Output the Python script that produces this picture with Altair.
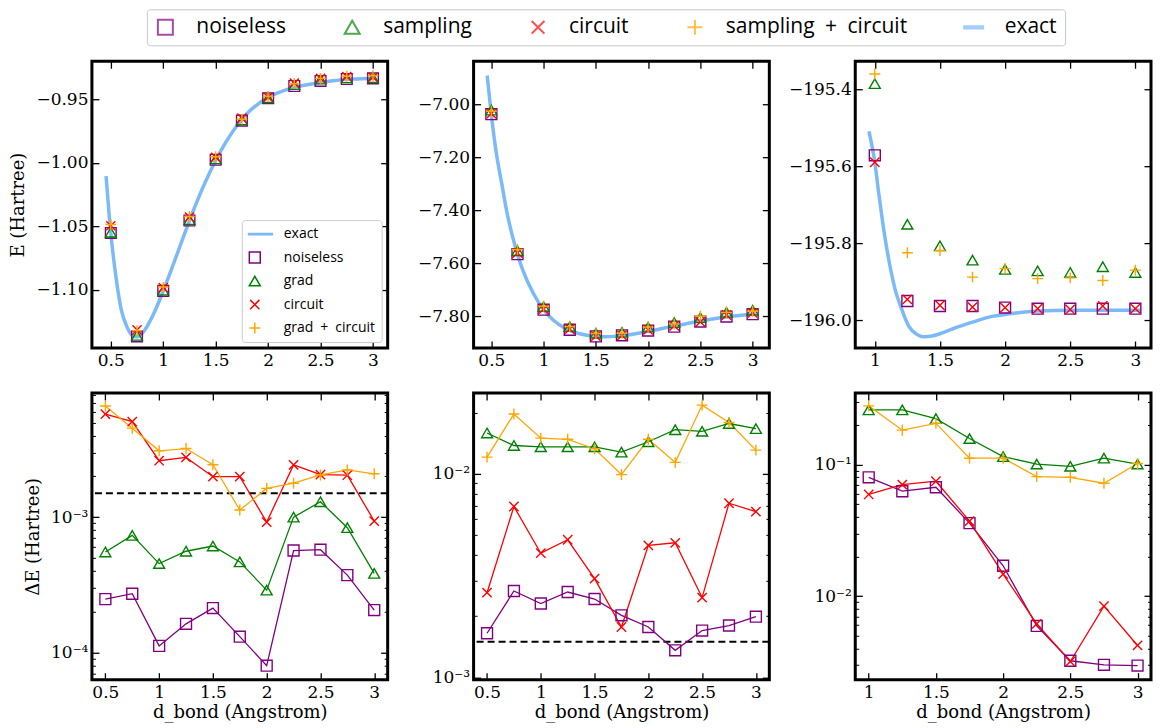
import altair as alt
import pandas as pd

# ---------------- data ----------------
d_h2 = [0.5, 0.75, 1.0, 1.25, 1.5, 1.75, 2.0, 2.25, 2.5, 2.75, 3.0]
d_lih = [0.5, 0.75, 1.0, 1.25, 1.5, 1.75, 2.0, 2.25, 2.5, 2.75, 3.0]
d_big = [1.0, 1.25, 1.5, 1.75, 2.0, 2.25, 2.5, 2.75, 3.0]

series_names = ["noiseless", "sampling", "circuit", "sampling + circuit"]
inset_names = ["noiseless", "grad", "circuit", "grad\u2002+\u2002circuit"]

# top row: energies (Hartree)
h2_noiseless = [-1.0553, -1.1368, -1.1010, -1.0455, -0.9976, -0.9668, -0.9492, -0.9395, -0.9355, -0.9340, -0.9335]
h2_sampling = [-1.0548, -1.1361, -1.1005, -1.0449, -0.9970, -0.9663, -0.9489, -0.9385, -0.9342, -0.9332, -0.9331]
h2_circuit = [-1.0496, -1.1317, -1.0984, -1.0428, -0.9956, -0.9648, -0.9483, -0.9371, -0.9335, -0.9320, -0.9326]
h2_both = [-1.0487, -1.1323, -1.0979, -1.0423, -0.9952, -0.9657, -0.9476, -0.9377, -0.9335, -0.9318, -0.9314]

lih_noiseless = [-7.036, -7.566, -7.776, -7.852, -7.877, -7.873, -7.855, -7.840, -7.821, -7.802, -7.793]
lih_sampling = [-7.021, -7.553, -7.764, -7.840, -7.865, -7.862, -7.842, -7.825, -7.806, -7.786, -7.778]
lih_circuit = [-7.034, -7.561, -7.774, -7.849, -7.876, -7.873, -7.852, -7.837, -7.822, -7.796, -7.788]
lih_both = [-7.025, -7.548, -7.763, -7.840, -7.866, -7.865, -7.842, -7.830, -7.801, -7.786, -7.782]

big_noiseless = [-195.572, -195.950, -195.963, -195.963, -195.967, -195.970, -195.970, -195.970, -195.970]
big_sampling = [-195.386, -195.751, -195.807, -195.844, -195.868, -195.872, -195.876, -195.861, -195.876]
big_circuit = [-195.590, -195.946, -195.961, -195.966, -195.967, -195.970, -195.972, -195.963, -195.970]
big_both = [-195.361, -195.825, -195.819, -195.888, -195.866, -195.892, -195.890, -195.897, -195.870]

# exact curves
h2_exact_d = [0.455, 0.5, 0.55, 0.6, 0.65, 0.7, 0.74, 0.8, 0.9, 1.0, 1.1, 1.2, 1.3, 1.4, 1.5,
              1.6, 1.7, 1.8, 1.9, 2.0, 2.2, 2.4, 2.6, 2.8, 3.02]
h2_exact_e = [-1.0105, -1.0553, -1.0905, -1.1160, -1.1285, -1.1357, -1.1372, -1.1343, -1.1205,
              -1.1011, -1.0792, -1.0567, -1.0350, -1.0154, -0.9982, -0.9834, -0.9710, -0.9611,
              -0.9539, -0.9486, -0.9418, -0.9381, -0.9355, -0.9340, -0.9333]

lih_exact_d = [0.46, 0.5, 0.55, 0.6, 0.65, 0.7, 0.75, 0.8, 0.9, 1.0, 1.1, 1.2, 1.3, 1.4, 1.5,
               1.6, 1.7, 1.8, 2.0, 2.2, 2.4, 2.6, 2.8, 3.03]
lih_exact_e = [-6.89, -7.04, -7.19, -7.30, -7.41, -7.495, -7.566, -7.625, -7.713, -7.776, -7.818,
               -7.845, -7.862, -7.872, -7.877, -7.878, -7.876, -7.872, -7.858, -7.842, -7.826,
               -7.812, -7.801, -7.791]

big_exact_d = [0.955, 1.0, 1.03, 1.06, 1.09, 1.12, 1.16, 1.2, 1.26, 1.32, 1.375, 1.44, 1.5, 1.6,
               1.75, 1.9, 2.0, 2.25, 2.5, 2.8, 3.04]
big_exact_e = [-195.51, -195.59, -195.67, -195.745, -195.81, -195.865, -195.925, -195.965,
               -196.015, -196.036, -196.043, -196.041, -196.035, -196.022, -196.005, -195.99,
               -195.985, -195.976, -195.974, -195.974, -195.974]

# bottom row: errors (Hartree)
h2_err_noiseless = [2.48e-4, 2.72e-4, 1.12e-4, 1.63e-4, 2.13e-4, 1.31e-4, 8.0e-5, 5.67e-4, 5.75e-4, 3.73e-4, 2.06e-4]
h2_err_sampling = [5.53e-4, 7.33e-4, 4.54e-4, 5.60e-4, 6.12e-4, 4.67e-4, 2.89e-4, 1.0e-3, 1.30e-3, 8.36e-4, 3.84e-4]
h2_err_circuit = [5.76e-3, 5.08e-3, 2.61e-3, 2.76e-3, 1.99e-3, 1.99e-3, 9.2e-4, 2.43e-3, 2.06e-3, 2.04e-3, 9.35e-4]
h2_err_both = [6.62e-3, 4.54e-3, 3.09e-3, 3.21e-3, 2.44e-3, 1.13e-3, 1.63e-3, 1.78e-3, 2.05e-3, 2.23e-3, 2.09e-3]

lih_err_noiseless = [1.65e-3, 2.66e-3, 2.31e-3, 2.63e-3, 2.43e-3, 2.02e-3, 1.77e-3, 1.36e-3, 1.70e-3, 1.80e-3, 1.99e-3]
lih_err_sampling = [1.59e-2, 1.38e-2, 1.36e-2, 1.36e-2, 1.36e-2, 1.28e-2, 1.44e-2, 1.65e-2, 1.62e-2, 1.77e-2, 1.67e-2]
lih_err_circuit = [2.61e-3, 6.92e-3, 4.08e-3, 4.75e-3, 3.06e-3, 1.77e-3, 4.46e-3, 4.59e-3, 2.47e-3, 7.18e-3, 6.53e-3]
lih_err_both = [1.21e-2, 1.97e-2, 1.50e-2, 1.48e-2, 1.33e-2, 9.93e-3, 1.48e-2, 1.14e-2, 2.18e-2, 1.79e-2, 1.31e-2]

big_err_noiseless = [8.01e-2, 6.28e-2, 6.73e-2, 3.59e-2, 1.70e-2, 5.93e-3, 3.22e-3, 3.0e-3, 2.96e-3]
big_err_sampling = [0.261, 0.261, 0.224, 0.158, 0.115, 0.101, 0.0971, 0.112, 0.101]
big_err_circuit = [5.93e-2, 7.05e-2, 7.48e-2, 3.72e-2, 1.47e-2, 6.14e-3, 3.18e-3, 8.39e-3, 4.21e-3]
big_err_both = [0.280, 0.183, 0.206, 0.112, 0.112, 8.11e-2, 8.01e-2, 7.22e-2, 0.102]

chem_accuracy = 1.5e-3

# tick values
x_ticks_a = [0.5, 1.0, 1.5, 2.0, 2.5, 3.0]
x_ticks_b = [1.0, 1.5, 2.0, 2.5, 3.0]
y_ticks_h2 = [-1.10, -1.05, -1.00, -0.95]
y_ticks_lih = [-7.8, -7.6, -7.4, -7.2, -7.0]
y_ticks_big = [-196.0, -195.8, -195.6, -195.4]
y_major_h2 = [1e-4, 1e-3]
y_minor_h2 = [7e-5, 8e-5, 9e-5, 2e-4, 3e-4, 4e-4, 5e-4, 6e-4, 7e-4, 8e-4, 9e-4,
              2e-3, 3e-3, 4e-3, 5e-3, 6e-3, 7e-3, 8e-3]
y_major_lih = [1e-3, 1e-2]
y_minor_lih = [2e-3, 3e-3, 4e-3, 5e-3, 6e-3, 7e-3, 8e-3, 9e-3, 2e-2]
y_major_big = [1e-2, 1e-1]
y_minor_big = [3e-3, 4e-3, 5e-3, 6e-3, 7e-3, 8e-3, 9e-3, 2e-2, 3e-2, 4e-2, 5e-2, 6e-2,
               7e-2, 8e-2, 9e-2, 0.2, 0.3]

legend_names = ["noiseless", "sampling", "circuit", "sampling\u2002+\u2002circuit", "exact"]
inset_legend_names = ["exact", "noiseless", "grad", "circuit", "grad\u2002+\u2002circuit"]

# ---------------- styles ----------------
PURPLE, GREEN, RED, ORANGE, SKY = "#800080", "#008000", "#ff0000", "#ffa500", "#7cb9f7"
COLORS4 = [PURPLE, GREEN, RED, ORANGE]
SQ, TRI = "square", "triangle-up"
XP = "M-0.85,-0.85L0.85,0.85M-0.85,0.85L0.85,-0.85"
PL = "M-1,0H1M0,-1V1"
EXACT_TOP = "M-7.6,-0.15H1.4M-7.6,0H1.4M-7.6,0.15H1.4"
EXACT_INSET = "M-3.35,-0.1H3.35M-3.35,0H3.35M-3.35,0.1H3.35"
SHAPES4 = [SQ, TRI, XP, PL]
TICK_FONT = "DejaVu Serif"
LOG_LABEL = "'10' + ['\u2070','\u207b\u00b9','\u207b\u00b2','\u207b\u00b3','\u207b\u2074','\u207b\u2075'][round(-log(datum.value)/LN10)]"


def long_df(d, cols, names):
    rows = []
    for name, vals in zip(names, cols):
        for x, v in zip(d, vals):
            rows.append({"d": x, "E": v, "series": name})
    return pd.DataFrame(rows)


def axis(orient, values=None, labels=True, minor=False, fmt=None, expr=None, title=None, tpad=None):
    size = 3.5 if minor else 7.0
    kw = dict(orient=orient, offset=-size, tickSize=size, labels=labels, ticks=True,
              domain=False, grid=False, tickWidth=1.0 if minor else 1.3, title=title,
              labelFont=TICK_FONT, labelFontSize=17, labelColor="black",
              titleFont=TICK_FONT, titleFontSize=18, titleFontWeight="normal", titleColor="black",
              tickColor="black", labelFlush=False, labelOverlap=False)
    kw["labelPadding"] = 5 if orient in ("bottom", "top") else 4
    if values is not None:
        kw["values"] = values
    if fmt:
        kw["format"] = fmt
    if expr:
        kw["labelExpr"] = expr
    if tpad is not None:
        kw["titlePadding"] = tpad
    return alt.Axis(**kw)


def make_panel(df, xdom, xvals, ydom, yvals, ylog=False, yfmt=None, ytitle=None, xtitle=None,
               exact=None, rule=None, connect=False, minor=None,
               domain=series_names, colors=COLORS4, shapes=SHAPES4, legend=None, size=120):
    if ylog:
        yscale = alt.Scale(type="log", domain=ydom, nice=False)
    else:
        yscale = alt.Scale(domain=ydom, nice=False, zero=False)
    xscale = alt.Scale(domain=xdom, nice=False, zero=False)
    cscale = alt.Scale(domain=domain, range=colors)
    sscale = alt.Scale(domain=domain, range=shapes)
    layers = []
    if exact is not None:
        layers.append(alt.Chart(exact).mark_line(color=SKY, strokeWidth=3.5, interpolate="monotone", clip=True).encode(
            x=alt.X("d:Q", scale=xscale, axis=None),
            y=alt.Y("E:Q", scale=yscale, axis=None)))
    if rule is not None:
        layers.append(alt.Chart(pd.DataFrame({"E": [rule]})).mark_rule(color="black", strokeDash=[7, 4], strokeWidth=2).encode(
            y=alt.Y("E:Q", scale=yscale, axis=None)))
    if connect:
        layers.append(alt.Chart(df).mark_line(strokeWidth=1.3).encode(
            x=alt.X("d:Q", scale=xscale, axis=None),
            y=alt.Y("E:Q", scale=yscale, axis=None),
            color=alt.Color("series:N", scale=cscale, legend=None)))
    if ylog:
        yax = axis("left", values=yvals, expr=LOG_LABEL, title=ytitle, tpad=8)
    else:
        yax = axis("left", values=yvals, fmt=yfmt, title=ytitle, tpad=8)
    xax = axis("bottom", values=xvals, fmt="~g", title=xtitle, tpad=3)
    layers.append(alt.Chart(df).mark_point(filled=False, size=size, strokeWidth=1.4, opacity=1, clip=True).encode(
        x=alt.X("d:Q", scale=xscale, axis=xax),
        y=alt.Y("E:Q", scale=yscale, axis=yax),
        color=alt.Color("series:N", scale=cscale, legend=legend),
        shape=alt.Shape("series:N", scale=sscale, legend=legend)))
    layers.append(alt.Chart(df).mark_point(opacity=0).encode(
        x=alt.X("d:Q", scale=xscale, axis=axis("top", values=xvals, labels=False)),
        y=alt.Y("E:Q", scale=yscale, axis=axis("right", values=yvals, labels=False))))
    if minor is not None:
        layers.append(alt.Chart(df).mark_point(opacity=0).encode(
            x=alt.X("d:Q", scale=xscale, axis=None),
            y=alt.Y("E:Q", scale=yscale, axis=axis("left", values=minor, labels=False, minor=True))))
        layers.append(alt.Chart(df).mark_point(opacity=0).encode(
            x=alt.X("d:Q", scale=xscale, axis=None),
            y=alt.Y("E:Q", scale=yscale, axis=axis("right", values=minor, labels=False, minor=True))))
    return alt.layer(*layers).resolve_axis(x="independent", y="independent").properties(width=PW, height=PH)


PW, PH = 296, 287

inset_legend = alt.Legend(title=None, orient="bottom-right", offset=6, padding=6,
                          labelFont="Open Sans", labelFontSize=14, labelColor="black",
                          labelOffset=22, symbolSize=120, symbolStrokeWidth=1.5,
                          clipHeight=16, rowPadding=7.5, strokeColor="#cccccc",
                          fillColor="white", cornerRadius=3, labelLimit=300)

p1 = make_panel(long_df(d_h2, [h2_noiseless, h2_sampling, h2_circuit, h2_both], inset_names),
                [0.32, 3.14], x_ticks_a, [-1.146, -0.920], y_ticks_h2, yfmt=".2f",
                ytitle="E  (Hartree)",
                exact=pd.DataFrame({"d": h2_exact_d, "E": h2_exact_e}),
                domain=inset_legend_names, colors=[SKY] + COLORS4,
                shapes=[EXACT_INSET] + SHAPES4, legend=inset_legend, size=115)
p2 = make_panel(long_df(d_lih, [lih_noiseless, lih_sampling, lih_circuit, lih_both], series_names),
                [0.33, 3.16], x_ticks_a, [-7.921, -6.836], y_ticks_lih, yfmt=".2f",
                exact=pd.DataFrame({"d": lih_exact_d, "E": lih_exact_e}))
p3 = make_panel(long_df(d_big, [big_noiseless, big_sampling, big_circuit, big_both], series_names),
                [0.85, 3.12], x_ticks_b, [-196.072, -195.328], y_ticks_big, yfmt=".1f",
                exact=pd.DataFrame({"d": big_exact_d, "E": big_exact_e}))
p4 = make_panel(long_df(d_h2, [h2_err_noiseless, h2_err_sampling, h2_err_circuit, h2_err_both], series_names),
                [0.375, 3.125], x_ticks_a, [6.3e-5, 8.26e-3], y_major_h2, ylog=True,
                ytitle="\u0394E  (Hartree)", xtitle="d_bond  (Angstrom)",
                rule=chem_accuracy, connect=True, minor=y_minor_h2)
p5 = make_panel(long_df(d_lih, [lih_err_noiseless, lih_err_sampling, lih_err_circuit, lih_err_both], series_names),
                [0.375, 3.125], x_ticks_a, [9.75e-4, 0.025], y_major_lih, ylog=True,
                xtitle="d_bond  (Angstrom)",
                rule=chem_accuracy, connect=True, minor=y_minor_lih)
p6 = make_panel(long_df(d_big, [big_err_noiseless, big_err_sampling, big_err_circuit, big_err_both], series_names),
                [0.9, 3.1], x_ticks_b, [2.31e-3, 0.351], y_major_big, ylog=True,
                xtitle="d_bond  (Angstrom)",
                connect=True, minor=y_minor_big)

grid = alt.concat(p1, p2, p3, p4, p5, p6, columns=3,
                  spacing=alt.RowColnumber(row=45, column=86),
                  bounds="flush").resolve_scale(color="independent", shape="independent")

top_legend = alt.Legend(title=None, orient="none", legendX=55, legendY=0,
                        direction="horizontal", columns=5, columnPadding=55, padding=8,
                        labelFont="Open Sans", labelFontSize=21, labelColor="black",
                        labelOffset=20.5, symbolSize=225, symbolStrokeWidth=2,
                        clipHeight=20, strokeColor="#c8c8c8", fillColor="white",
                        cornerRadius=3, labelLimit=400)

legend_chart = alt.Chart(pd.DataFrame({"series": legend_names})).transform_filter("false").mark_point(
    filled=False, size=225, strokeWidth=2).encode(
    color=alt.Color("series:N", scale=alt.Scale(domain=legend_names, range=COLORS4 + [SKY]), legend=top_legend),
    shape=alt.Shape("series:N", scale=alt.Scale(domain=legend_names, range=SHAPES4 + [EXACT_TOP]), legend=top_legend),
).properties(width=1, height=1, view=alt.ViewBackground(stroke="transparent", strokeWidth=0))

chart = alt.vconcat(legend_chart, grid, spacing=12).resolve_scale(
    color="independent", shape="independent"
).properties(padding=0).configure_view(
    stroke="black", strokeWidth=3
)

chart.save("out.html", embed_options={"renderer": "svg", "actions": False})
